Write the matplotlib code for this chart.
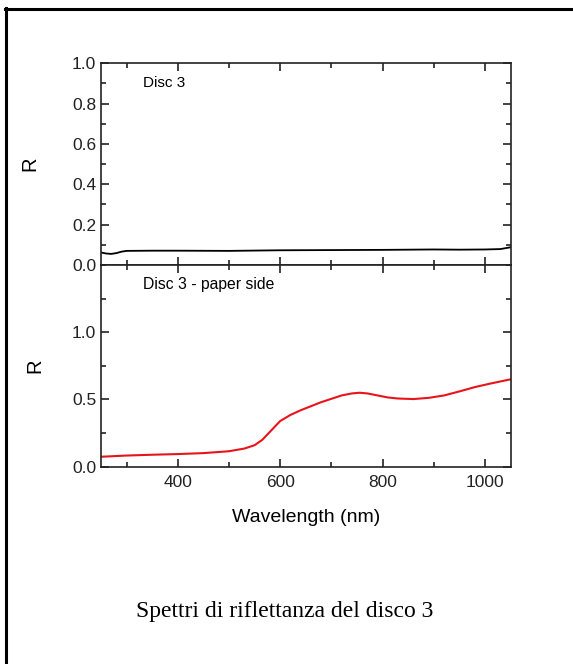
import numpy as np
import matplotlib.pyplot as plt
from matplotlib.lines import Line2D
from matplotlib.ticker import MultipleLocator, FormatStrFormatter

plt.rcParams['font.family'] = ['Liberation Sans', 'DejaVu Sans']

# front side spectrum (Disc 3)
wl_front = [250, 260, 270, 280, 290, 300, 350, 400, 500, 600, 700, 800, 900, 950, 1000, 1030, 1050]
r_front = [0.062, 0.057, 0.055, 0.059, 0.066, 0.070, 0.071, 0.071, 0.070, 0.073, 0.074, 0.075,
           0.077, 0.076, 0.077, 0.079, 0.088]

# paper side spectrum
wl_paper = [250, 300, 350, 400, 450, 500, 530, 550, 565, 580, 600, 620, 640, 660, 680, 700,
            720, 740, 755, 770, 790, 810, 830, 860, 890, 920, 950, 980, 1010, 1050]
r_paper = [0.074, 0.083, 0.089, 0.094, 0.101, 0.115, 0.135, 0.160, 0.200, 0.260, 0.340, 0.385,
           0.420, 0.450, 0.480, 0.505, 0.530, 0.545, 0.550, 0.545, 0.530, 0.515, 0.507, 0.503,
           0.512, 0.530, 0.560, 0.592, 0.618, 0.650]

W, H = 573, 664
fig = plt.figure(figsize=(W / 100, H / 100), dpi=100)

left = 101 / W
width = (510.7 - 101) / W
ax_h = 201.7 / H
ax1 = fig.add_axes([left, 1 - 265 / H, width, ax_h])
ax2 = fig.add_axes([left, 1 - 466.7 / H, width, ax_h])

ax1.plot(wl_front, r_front, color='black', lw=1.3)
ax2.plot(wl_paper, r_paper, color='#e8141c', lw=1.5)

for ax in (ax1, ax2):
    ax.set_xlim(250, 1050)
    ax.xaxis.set_major_locator(MultipleLocator(200))
    ax.xaxis.set_minor_locator(MultipleLocator(100))
    ax.tick_params(which='both', direction='in', top=True, right=True, labelsize=12.5,
                   width=1.2, colors='#222222', labelcolor='#222222')
    ax.tick_params(which='major', length=6)
    ax.tick_params(which='minor', length=3.5)
    ax.tick_params(axis='x', pad=6)
    for s in ax.spines.values():
        s.set_linewidth(1.2)
        s.set_color('#222222')
    ax.yaxis.set_major_formatter(FormatStrFormatter('%.1f'))

ax1.set_ylim(0, 1.0)
ax1.yaxis.set_major_locator(MultipleLocator(0.2))
ax1.yaxis.set_minor_locator(MultipleLocator(0.1))
ax1.tick_params(labelbottom=False)

ax2.set_ylim(0, 1.5)
ax2.set_yticks([0.0, 0.5, 1.0])
ax2.yaxis.set_minor_locator(MultipleLocator(0.25))

ax1.set_ylabel('R', fontsize=14.5)
ax2.set_ylabel('R', fontsize=14.5)
ax1.yaxis.set_label_coords(-0.151, 0.5)
ax2.yaxis.set_label_coords(-0.139, 0.5)
ax2.set_xlabel('Wavelength (nm)', fontsize=14, labelpad=14)

ax1.text(0.102, 0.9, 'Disc 3', transform=ax1.transAxes, fontsize=11, va='center', ha='left')
ax2.text(0.102, 0.905, 'Disc 3 - paper side', transform=ax2.transAxes, fontsize=11.3,
         va='center', ha='left')

fig.text(285 / W, 1 - 612 / H, 'Spettri di riflettanza del disco 3', ha='center', va='center',
         fontsize=17, family=['Liberation Serif', 'DejaVu Serif'])

# outer frame (top and left edges visible)
fig.add_artist(Line2D([5 / W, 1], [1 - 9 / H, 1 - 9 / H], color='black', lw=2.2,
                      transform=fig.transFigure))
fig.add_artist(Line2D([6 / W, 6 / W], [1 - 8 / H, 0], color='black', lw=2.2,
                      transform=fig.transFigure))

fig.savefig('out.png', dpi=100)
